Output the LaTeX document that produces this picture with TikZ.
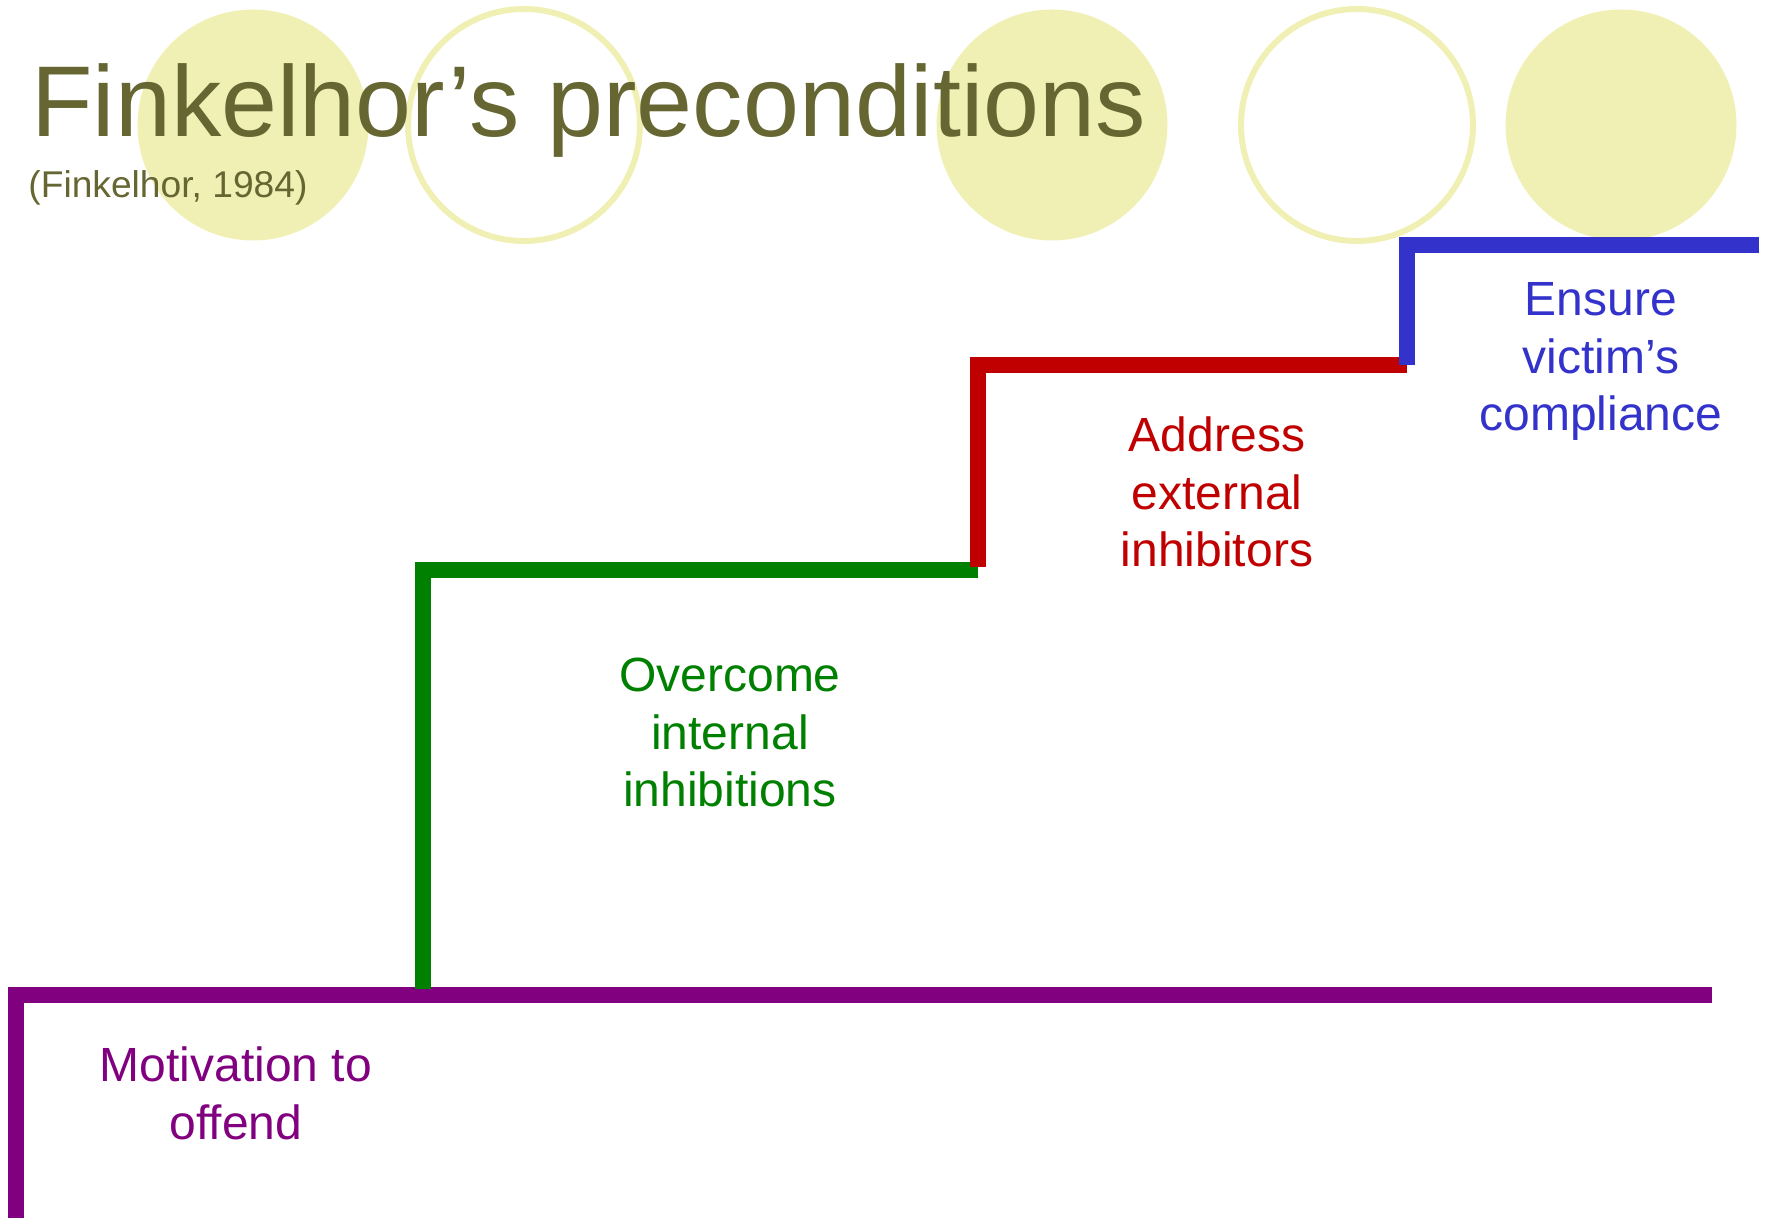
\documentclass[tikz,border=0pt]{standalone}
\usepackage{fontspec}
\setmainfont{Liberation Sans}
\usepackage{tikz}
\usetikzlibrary{positioning}
\definecolor{titleOlive}{HTML}{666633}
\definecolor{paleYellow}{HTML}{F0F0B4}
\definecolor{stepPurple}{HTML}{800080}
\definecolor{stepGreen}{HTML}{008000}
\definecolor{stepRed}{HTML}{C00000}
\definecolor{stepBlue}{HTML}{3333CC}
\tikzset{
    stair/.style={line width=8pt, line join=miter}, % the thick coloured steps
    blob/.style={fill=paleYellow}, % filled circles behind the title
    ring/.style={draw=paleYellow, line width=3pt}, % open circles behind the title
    titletext/.style={inner sep=0pt, text=titleOlive, font=\fontsize{50.3pt}{57.5pt}\selectfont},
    steptext/.style={align=center, anchor=base, inner sep=0pt, font=\fontsize{24pt}{28.75pt}\selectfont}, % text under each step, placed at its last line
    }

\begin{document}
\begin{tikzpicture}[x=0.5pt, y=-0.5pt]
\useasboundingbox (0,0) rectangle (1768,1218);

% circles along the top
\fill[blob] (253,125) circle (57.75pt);
\draw[ring] (524,125) circle (58pt);
\fill[blob] (1052,125) circle (57.75pt);
\draw[ring] (1357,125) circle (58pt);
\fill[blob] (1621,125) circle (57.75pt);

\node[titletext, anchor=base west] (title) at (31,137) {Finkelhor’s preconditions};
\node[titletext, anchor=base west, font=\fontsize{18.6pt}{21pt}\selectfont] (source) at (28,198) {(Finkelhor, 1984)};

% corners of the steps
\coordinate (m0) at (16,1218);
\coordinate (m1) at (16,995);
\coordinate (m2) at (1712,995);
\coordinate (g0) at (423,989);
\coordinate (g1) at (423,570);
\coordinate (g2) at (978,570);
\coordinate (r0) at (978,567);
\coordinate (r1) at (978,365);
\coordinate (r2) at (1407,365);
\coordinate (b0) at (1407,365);
\coordinate (b1) at (1407,245);
\coordinate (b2) at (1759,245);

\draw[stair, stepPurple] (m0) -- (m1) -- (m2);
\draw[stair, stepGreen] (g0) -- (g1) -- (g2);
\draw[stair, stepRed] (r0) -- (r1) -- (r2);
\draw[stair, stepBlue] (b0) -- (b1) -- (b2);

\node[steptext, text=stepPurple] (motive) at (236,1139) {Motivation to\\offend};
\node[steptext, text=stepGreen] (internal) at (730,807) {Overcome\\internal\\inhibitions};
\node[steptext, text=stepRed] (external) at (1217,567) {Address\\external\\inhibitors};
\node[steptext, text=stepBlue] (victim) at (1601,431) {Ensure\\victim’s\\compliance};
\end{tikzpicture}
\end{document}
